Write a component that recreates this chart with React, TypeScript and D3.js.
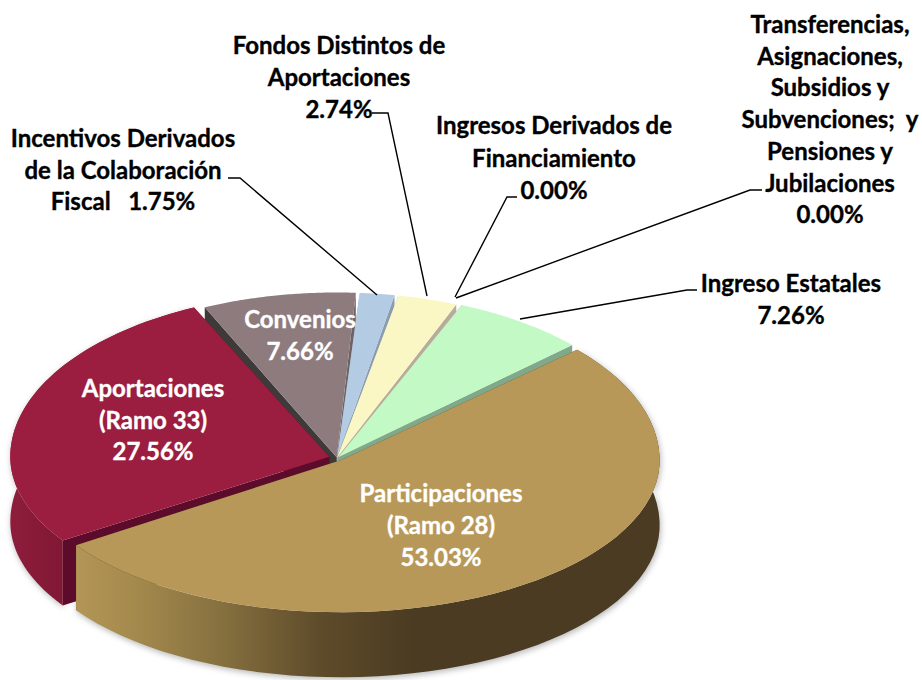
import * as d3 from "d3"

// Values, in clockwise order from Participaciones
const categories = [
  "Participaciones",
  "Aportaciones",
  "Convenios",
  "Incentivos",
  "Fondos",
  "Financiamiento",
  "Transferencias",
  "Estatales",
]
const shares = [53.03, 27.56, 7.66, 1.75, 2.74, 0.0, 0.0, 7.26]
const labelLines = [
  ["Participaciones", "(Ramo 28)"],
  ["Aportaciones", "(Ramo 33)"],
  ["Convenios"],
  ["Incentivos Derivados", "de la Colaboración"],
  ["Fondos Distintos de", "Aportaciones"],
  ["Ingresos Derivados de", "Financiamiento"],
  ["Transferencias,", "Asignaciones,", "Subsidios y", "Subvenciones;  y", "Pensiones y", "Jubilaciones"],
  ["Ingreso Estatales"],
]

const width = 922
const height = 680
const cx = 337
const cy = 458
const radius = 319
const depth = 65
const steps = 60

const topColors = ["#b89858", "#9b1d3f", "#8e7b7e", "#b4cce3", "#fbf7c4", "#c2f9c4", "#c2f9c4", "#c2f9c4"]
const startWall = ["#4a3b22", "#5c0b2a", "#3f3a3a", "#8a9cb0", "#bfb8a0", "#bdb0a0", "#bdb0a0", "#a89f90"]
const endWall = ["#4a3b22", "#5c0b2a", "#6f6264", "#8a9cb0", "#b9ab9c", "#bdb0a0", "#bdb0a0", "#7fa98a"]
// far slices show no rim wall
const outerWall = ["url(#wallTan)", "url(#wallRed)", "none", "none", "none", "none", "none", "none"]
const explode = [6, 8, 1, 1, 1, 0, 0, 2]
const paintOrder = [2, 3, 4, 7, 1, 0]

// far half of the disc is stretched a bit more than the near half
const xScale = d3.scaleLinear().domain([-radius, radius]).range([cx - radius, cx + radius])
const yScale = d3.scaleLinear().domain([-radius, 0, radius]).range([cy - 165, cy, cy + 152])

const deg = (d: number) => (d * Math.PI) / 180
const firstAngle = 47.5

const pie = d3
  .pie<number>()
  .sort(null)
  .padAngle(0.011)
  .startAngle(deg(firstAngle))
  .endAngle(deg(firstAngle) + 2 * Math.PI)

// the original's perspective pushes the far slices a little clockwise
const warp = d3
  .scaleLinear()
  .domain([47.5, 236.4, 334.8, 362.6, 369.5, 379.8, 381.7, 407.5].map(deg))
  .range([47.5, 236.4, 335.2, 363.7, 370.7, 382.2, 382.9, 407.5].map(deg))

const line = d3.line().curve(d3.curveLinear)

type Pt = [number, number]

function project(p: Pt, drop = 0): Pt {
  return [xScale(p[0]), yScale(p[1]) + drop]
}

function sliceGeometry(arc: d3.PieArcDatum<number>, i: number) {
  const start = warp(arc.startAngle + arc.padAngle / 2)
  const end = warp(arc.endAngle - arc.padAngle / 2)
  const mid = (start + end) / 2
  const [ox, oy] = d3.pointRadial(mid, explode[i])
  const flat = (a: number, r: number): Pt => {
    const [x, y] = d3.pointRadial(a, r)
    return [x + ox, y + oy]
  }
  const angles = d3.range(steps + 1).map((k) => start + ((end - start) * k) / steps)
  const rim = angles.map((a) => flat(a, radius))
  const apex = flat(mid, 0)

  const wall = (pts: Pt[]) =>
    line([...pts.map((p) => project(p)), ...pts.slice().reverse().map((p) => project(p, depth))]) + "Z"

  return {
    top: line([project(apex), ...rim.map((p) => project(p))]) + "Z",
    outer: wall(rim),
    startSide: wall([apex, rim[0]]),
    endSide: wall([apex, rim[rim.length - 1]]),
  }
}

const fmt = (v: number) => d3.format(".2f")(v) + "%"

// label placement: centre x, first baseline
const outside = [
  { i: 3, x: 123, y: 147, step: 31.6 },
  { i: 4, x: 339, y: 54, step: 32 },
  { i: 5, x: 554, y: 134, step: 32.5 },
  { i: 6, x: 830, y: 33, step: 31.7 },
  { i: 7, x: 791, y: 292, step: 31.5 },
]
const inside = [
  { i: 0, x: 441, y: 502, step: 32 },
  { i: 1, x: 153, y: 397, step: 31.5 },
  { i: 2, x: 300, y: 328, step: 31.5 },
]

// leader lines run from the label to the rim
const leaders: Pt[][] = [
  [[228, 178], [240, 178], [377, 295]],
  [[372, 113], [388, 113], [427, 296]],
  [[517, 197], [507, 197], [455, 297]],
  [[762, 190], [750, 190], [456, 298]],
  [[697, 290], [687, 290], [520, 319]],
]

export default function App() {
  const arcs = pie(shares)
  const slices = arcs.map((a, i) => sliceGeometry(a, i))

  const lines = (item: { i: number }) => {
    const pct = fmt(shares[item.i])
    // the Incentivos label keeps its percentage on the last name line
    if (categories[item.i] === "Incentivos") return [...labelLines[item.i], "Fiscal   " + pct]
    return [...labelLines[item.i], pct]
  }

  return (
    <svg
      width={width}
      height={height}
      viewBox={`0 0 ${width} ${height}`}
      style={{ position: "absolute", left: 0, top: 0, background: "#fff" }}
      fontFamily="Lato, 'Open Sans', sans-serif"
      fontWeight={700}
    >
      <defs>
        <linearGradient id="wallTan" gradientUnits="userSpaceOnUse" x1={75} x2={660} y1={0} y2={0}>
          <stop offset="0" stopColor="#b39657" />
          <stop offset="0.1" stopColor="#a58a4d" />
          <stop offset="0.25" stopColor="#85703f" />
          <stop offset="0.42" stopColor="#5e4b2a" />
          <stop offset="0.58" stopColor="#4a3b22" />
          <stop offset="1" stopColor="#4a3b22" />
        </linearGradient>
        <linearGradient id="wallRed" gradientUnits="userSpaceOnUse" x1={10} x2={70} y1={0} y2={0}>
          <stop offset="0" stopColor="#8e1d3c" />
          <stop offset="1" stopColor="#7e1733" />
        </linearGradient>
        <filter id="soft" x="-10%" y="-10%" width="120%" height="120%">
          <feGaussianBlur stdDeviation="3" />
        </filter>
      </defs>

      <g filter="url(#soft)" opacity={0.4} transform="translate(1,2)">
        {[1, 0].map((i) => (
          <path key={i} d={slices[i].outer} fill="#444" />
        ))}
      </g>

      {paintOrder.map((i) => (
        <g key={categories[i]}>
          <path d={slices[i].startSide} fill={startWall[i]} />
          <path d={slices[i].endSide} fill={endWall[i]} />
          <path d={slices[i].outer} fill={outerWall[i]} />
          <path d={slices[i].top} fill={topColors[i]} />
        </g>
      ))}

      {leaders.map((pts, i) => (
        <path key={i} d={line(pts) ?? ""} fill="none" stroke="#000" strokeWidth={1.4} />
      ))}

      {outside.map((item) => (
        <text
          key={item.i}
          textAnchor="middle"
          fontSize={24}
          fill="#000"
          stroke="#000"
          strokeWidth={0.35}
          style={{ whiteSpace: "pre" }}
        >
          {lines(item).map((t, k) => (
            <tspan key={k} x={item.x} y={item.y + k * item.step}>
              {t}
            </tspan>
          ))}
        </text>
      ))}
      {inside.map((item) => (
        <text key={item.i} textAnchor="middle" fontSize={24} fill="#fff" stroke="#fff" strokeWidth={0.35}>
          {lines(item).map((t, k) => (
            <tspan key={k} x={item.x} y={item.y + k * item.step}>
              {t}
            </tspan>
          ))}
        </text>
      ))}
    </svg>
  )
}
